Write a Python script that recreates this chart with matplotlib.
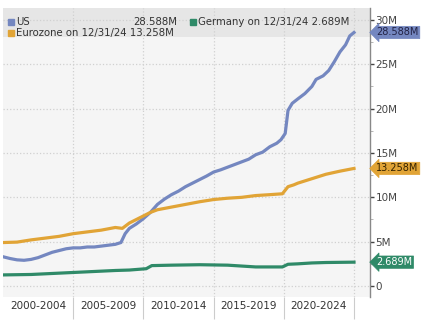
import numpy as np
import matplotlib
matplotlib.use("Agg")
import matplotlib.pyplot as plt

# data (decimal years, values in millions)
us_t = [2000.0, 2000.5, 2001.0, 2001.5, 2002.0, 2002.5, 2003.0, 2003.5, 2004.0, 2004.5,
        2005.0, 2005.5, 2006.0, 2006.5, 2007.0, 2007.5, 2008.0, 2008.4, 2008.7, 2009.0,
        2009.5, 2010.0, 2010.5, 2011.0, 2011.5, 2012.0, 2012.5, 2013.0, 2013.5, 2014.0,
        2014.5, 2015.0, 2015.5, 2016.0, 2016.5, 2017.0, 2017.5, 2018.0, 2018.5, 2019.0,
        2019.5, 2019.8, 2020.1, 2020.3, 2020.6, 2021.0, 2021.5, 2022.0, 2022.3, 2022.8,
        2023.2, 2023.6, 2024.0, 2024.4, 2024.7, 2025.0]
us_v = [3.3, 3.1, 2.95, 2.9, 3.0, 3.2, 3.5, 3.8, 4.0, 4.2,
        4.3, 4.3, 4.4, 4.4, 4.5, 4.6, 4.7, 4.9, 5.9, 6.5,
        7.0, 7.6, 8.3, 9.2, 9.8, 10.3, 10.7, 11.2, 11.6, 12.0,
        12.4, 12.85, 13.1, 13.4, 13.7, 14.0, 14.3, 14.8, 15.1, 15.7,
        16.1, 16.5, 17.2, 19.8, 20.6, 21.1, 21.7, 22.5, 23.3, 23.7,
        24.3, 25.3, 26.4, 27.2, 28.2, 28.588]

ez_t = [2000.0, 2001.0, 2002.0, 2003.0, 2004.0, 2005.0, 2006.0, 2007.0, 2008.0, 2008.5,
        2009.0, 2009.5, 2010.0, 2010.5, 2011.0, 2012.0, 2013.0, 2014.0, 2015.0, 2016.0,
        2017.0, 2018.0, 2019.0, 2019.9, 2020.3, 2020.7, 2021.0, 2022.0, 2023.0, 2024.0, 2025.0]
ez_v = [4.9, 4.95, 5.2, 5.4, 5.6, 5.9, 6.1, 6.3, 6.6, 6.5,
        7.1, 7.5, 7.9, 8.3, 8.6, 8.9, 9.2, 9.5, 9.75, 9.9,
        10.0, 10.2, 10.3, 10.4, 11.2, 11.4, 11.6, 12.1, 12.6, 12.95, 13.258]

de_t = [2000.0, 2002.0, 2004.0, 2006.0, 2008.0, 2009.0, 2010.2, 2010.6, 2012.0, 2014.0,
        2016.0, 2018.0, 2019.9, 2020.3, 2021.0, 2022.0, 2023.0, 2025.0]
de_v = [1.25, 1.3, 1.45, 1.6, 1.75, 1.8, 1.95, 2.3, 2.35, 2.4,
        2.35, 2.15, 2.15, 2.45, 2.5, 2.6, 2.65, 2.689]

periods = ["2000-2004", "2005-2009", "2010-2014", "2015-2019", "2020-2024"]
yticks = [0, 5, 10, 15, 20, 25, 30]

c_us = "#7487c0"
c_ez = "#e1a436"
c_de = "#2f8a68"

fig = plt.figure(figsize=(4.29, 3.22), dpi=100)
ax = fig.add_axes([3 / 429, 25 / 322, 367 / 429, 289 / 322])
ax.set_facecolor("#f5f5f5")
ax.set_xlim(2000, 2026.14)
ax.set_ylim(-1.24, 31.35)

# legend band
ax.axhspan(28.07, 31.35, color="#e6e6e6", zorder=0.5, lw=0)

ax.plot(us_t, us_v, color=c_us, lw=2.3, zorder=3)
ax.plot(ez_t, ez_v, color=c_ez, lw=2.3, zorder=3)
ax.plot(de_t, de_v, color=c_de, lw=2.3, zorder=3)

for s in ["left", "top", "bottom"]:
    ax.spines[s].set_visible(False)
ax.spines["right"].set_color("#888888")
ax.spines["right"].set_linewidth(1.0)

ax.yaxis.tick_right()
ax.set_yticks(yticks)
ax.set_yticklabels(["0"] + [f"{v}M" for v in yticks[1:]])
ax.set_yticks(np.arange(2.5, 30, 5), minor=True)
ax.tick_params(axis="y", which="major", length=3, width=1, color="#444444",
               labelsize=7.5, labelcolor="#444444", pad=1)
ax.tick_params(axis="y", which="minor", length=2, width=0.6, color="#aaaaaa")

ax.set_xticks([2005, 2010, 2015, 2020, 2025])
ax.set_xticklabels([])
ax.set_xticks([2002.5, 2007.5, 2012.5, 2017.5, 2022.5], minor=True)
ax.set_xticklabels(periods, minor=True)
ax.tick_params(axis="x", which="major", length=16, width=0.8, color="#cccccc")
ax.tick_params(axis="x", which="minor", length=0, labelsize=7.5, labelcolor="#333333", pad=3)

ax.grid(True, which="major", color="#d0d0d0", ls=":", lw=0.9, zorder=1)

# legend text in the band
tkw = dict(transform=ax.transAxes, fontsize=7.3, color="#333333", va="center", zorder=4)
ax.text(0.035, 0.952, "US", **tkw)
ax.text(0.475, 0.952, "28.588M", ha="right", **tkw)
ax.text(0.53, 0.952, "Germany on 12/31/24 2.689M", **tkw)
ax.text(0.035, 0.912, "Eurozone on 12/31/24 13.258M", **tkw)
for xx, yy, cc in [(0.022, 0.952, c_us), (0.517, 0.952, c_de), (0.022, 0.912, c_ez)]:
    ax.plot([xx], [yy], marker="s", ms=4.5, color=cc, transform=ax.transAxes,
            clip_on=False, zorder=4)

# value tags on the right axis
for val, txt, cc, tc in [(28.588, "28.588M", c_us, "#222244"),
                         (13.258, "13.258M", c_ez, "#332200"),
                         (2.689, "2.689M", c_de, "white")]:
    ax.annotate(txt, xy=(1.0, val), xycoords=("axes fraction", "data"),
                xytext=(4.5, 0), textcoords="offset points", fontsize=7, color=tc,
                va="center", ha="left", annotation_clip=False, zorder=5,
                bbox=dict(boxstyle="larrow,pad=0.12", fc=cc, ec=cc, lw=0.5))

fig.savefig("out.png", dpi=100)
